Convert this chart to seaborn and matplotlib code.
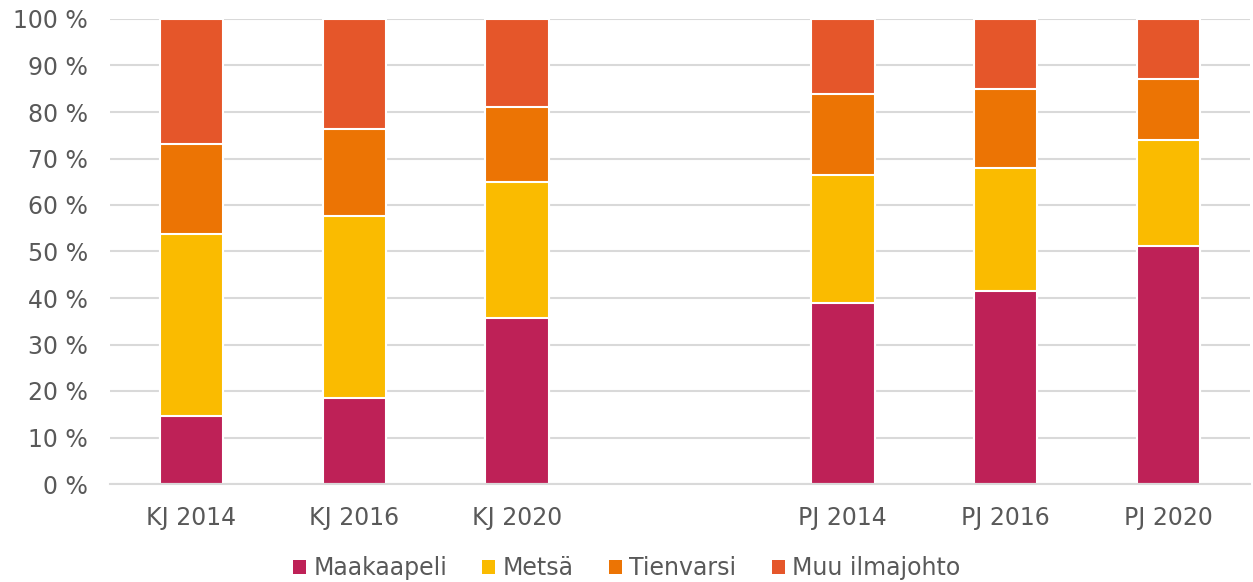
import pandas as pd
import matplotlib.pyplot as plt
import seaborn as sns
from matplotlib.patches import Patch

# Data
categories = ["KJ 2014", "KJ 2016", "KJ 2020", "", "PJ 2014", "PJ 2016", "PJ 2020"]
series = ["Maakaapeli", "Metsä", "Tienvarsi", "Muu ilmajohto"]
maakaapeli = [14.6, 18.5, 35.7, None, 38.9, 41.5, 51.2]
metsa = [39.2, 39.1, 29.2, None, 27.6, 26.5, 22.8]
tienvarsi = [19.3, 18.7, 16.2, None, 17.4, 16.9, 13.1]
muu = [26.9, 23.7, 18.9, None, 16.1, 15.1, 12.9]
colors = ["#BE2157", "#FABB00", "#EC7404", "#E5562A"]

df = pd.DataFrame({
    "cat": categories,
    "Maakaapeli": maakaapeli,
    "Metsä": metsa,
    "Tienvarsi": tienvarsi,
    "Muu ilmajohto": muu,
})
df = df[df["cat"] != ""]

# cumulative tops for stacking
cum = df[series].cumsum(axis=1)

sns.set_style("white")
plt.rcParams["font.family"] = ["DejaVu Sans"]

fig = plt.figure(figsize=(12.53, 5.82), dpi=100)
ax = fig.add_axes([110 / 1253, 1 - 484 / 582, 1140 / 1253, 465 / 582])

for name, color in reversed(list(zip(series, colors))):
    sns.barplot(
        x=df["cat"], y=cum[name], order=categories, color=color,
        width=0.39, edgecolor="white", linewidth=1.5, ax=ax,
        saturation=1, errorbar=None,
    )

ax.set_ylim(0, 100)
ax.set_xlim(-0.5, 6.5)
ax.set_yticks(range(0, 101, 10))
ax.set_yticklabels([f"{v} %" for v in range(0, 101, 10)])
ax.set_xlabel("")
ax.set_ylabel("")
ax.yaxis.grid(True, color="#D9D9D9", linewidth=1.5)
ax.set_axisbelow(True)
for side in ["top", "right", "left"]:
    ax.spines[side].set_visible(False)
ax.spines["bottom"].set_color("#D9D9D9")
ax.spines["bottom"].set_linewidth(1.5)
ax.tick_params(axis="both", length=0, labelsize=17, colors="#595959")
ax.tick_params(axis="y", pad=16)
ax.tick_params(axis="x", pad=16)

handles = [Patch(facecolor=c, edgecolor="none") for c in colors]
fig.legend(
    handles, series, loc="center", bbox_to_anchor=(0.5, 1 - 568 / 582),
    ncol=4, frameon=False, fontsize=17, handlelength=0.55, handleheight=0.55,
    handletextpad=0.3, columnspacing=1.5, labelcolor="#595959",
)

fig.savefig("out.png", dpi=100)
